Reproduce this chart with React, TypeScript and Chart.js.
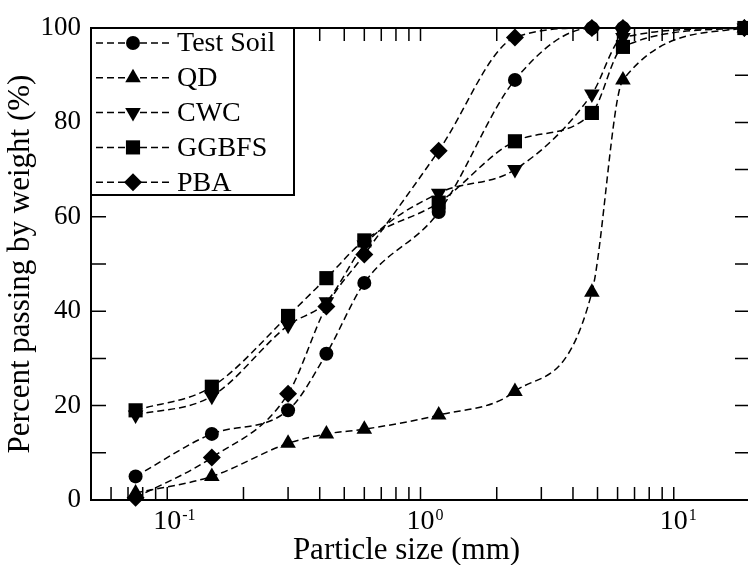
import React, { useEffect, useRef } from 'react';
import { Chart, registerables } from 'chart.js';

Chart.register(...registerables);

// Sieve sizes (mm)
const sizes = [0.075, 0.15, 0.3, 0.425, 0.6, 1.18, 2.36, 4.75, 6.3, 19];

// Percent passing by weight (%)
const testSoil = [5, 14, 19, 31, 46, 61, 89, 100, 100, 100];
const qd = [1.5, 5, 12, 14, 15, 18, 23, 44, 89, 100];
const cwc = [18, 22, 37, 42, 54, 65, 70, 86, 98, 100];
const ggbfs = [19, 24, 39, 47, 55, 63, 76, 82, 96, 100];
const pba = [0.5, 9, 22.5, 41, 52, 74, 98, 100, 100, 100];

const seriesLabels = ['Test Soil', 'QD', 'CWC', 'GGBFS', 'PBA'];
const seriesValues = [testSoil, qd, cwc, ggbfs, pba];
const pointStyles = ['circle', 'triangle', 'triangle', 'rect', 'rectRot'];
const pointRotations = [0, 0, 180, 0, 0];
const pointRadii = [7, 9, 9, 10, 9];

const xMajorTicks = [0.1, 1, 10];
const xTickBase = '10';
const xTickExponents = ['-1', '0', '1'];
const xAxisTitle = 'Particle size (mm)';
const yAxisTitle = 'Percent passing by weight (%)';
const X_MIN = 0.05;
const X_MAX = 20;
const Y_MIN = 0;
const Y_MAX = 100;

const FONT = "'Liberation Serif', 'Times New Roman', serif";

function drawMarker(ctx: CanvasRenderingContext2D, style: string, x: number, y: number, r: number, rotDeg: number) {
  ctx.beginPath();
  if (style === 'circle') {
    ctx.arc(x, y, r, 0, Math.PI * 2);
  } else if (style === 'triangle') {
    let a = (rotDeg * Math.PI) / 180;
    for (let k = 0; k < 3; k++) {
      const px = x + Math.sin(a) * r;
      const py = y - Math.cos(a) * r;
      if (k === 0) ctx.moveTo(px, py);
      else ctx.lineTo(px, py);
      a += (2 * Math.PI) / 3;
    }
  } else if (style === 'rect') {
    const s = r * Math.SQRT1_2;
    ctx.rect(x - s, y - s, 2 * s, 2 * s);
  } else {
    ctx.moveTo(x - r, y);
    ctx.lineTo(x, y - r);
    ctx.lineTo(x + r, y);
    ctx.lineTo(x, y + r);
  }
  ctx.closePath();
  ctx.fill();
}

const framePlugin = {
  id: 'frameTicks',
  beforeDatasetsDraw(chart: any) {
    const { ctx, chartArea, scales } = chart;
    const { left, right, top, bottom } = chartArea;
    const xs = scales.x;
    const ys = scales.y;
    ctx.save();
    ctx.strokeStyle = '#000';
    ctx.setLineDash([]);
    ctx.lineWidth = 1.5;
    ctx.beginPath();
    for (let v = Y_MIN; v <= Y_MAX; v += 10) {
      const py = ys.getPixelForValue(v);
      ctx.moveTo(left, py);
      ctx.lineTo(left + 15, py);
      ctx.moveTo(right, py);
      ctx.lineTo(right - 15, py);
    }
    for (let e = -2; e <= 1; e++) {
      for (let d = 1; d <= 9; d++) {
        const v = d * Math.pow(10, e);
        if (v < X_MIN || v > X_MAX) continue;
        const px = xs.getPixelForValue(v);
        ctx.moveTo(px, bottom);
        ctx.lineTo(px, bottom - 13);
        ctx.moveTo(px, top);
        ctx.lineTo(px, top + 13);
      }
    }
    ctx.stroke();
    ctx.lineWidth = 2;
    ctx.strokeRect(left, top, right - left, bottom - top);

    // exponents of the x tick labels
    ctx.fillStyle = '#000';
    ctx.font = `28px ${FONT}`;
    const baseW = ctx.measureText(xTickBase).width;
    ctx.font = `16px ${FONT}`;
    ctx.textAlign = 'left';
    ctx.textBaseline = 'alphabetic';
    xMajorTicks.forEach((v, i) => {
      const px = xs.getPixelForValue(v);
      ctx.fillText(xTickExponents[i], px + baseW / 2 + 1, bottom + 20);
    });

    // x axis title
    ctx.font = `31px ${FONT}`;
    ctx.textAlign = 'center';
    ctx.textBaseline = 'alphabetic';
    ctx.fillText(xAxisTitle, (left + right) / 2 - 14, bottom + 59);
    ctx.restore();
  },
  afterDatasetsDraw(chart: any) {
    const { ctx, chartArea } = chart;
    const { left, top } = chartArea;
    const boxW = 203;
    const boxH = 167;
    ctx.save();
    ctx.fillStyle = '#fff';
    ctx.fillRect(left, top, boxW, boxH);
    ctx.strokeStyle = '#000';
    ctx.lineWidth = 2;
    ctx.setLineDash([]);
    ctx.strokeRect(left, top, boxW, boxH);
    chart.data.datasets.forEach((ds: any, i: number) => {
      const yy = top + 15 + i * 34.8;
      ctx.strokeStyle = '#000';
      ctx.lineWidth = 1.5;
      ctx.setLineDash([7, 4]);
      ctx.beginPath();
      ctx.moveTo(left + 5, yy);
      ctx.lineTo(left + 81, yy);
      ctx.stroke();
      ctx.setLineDash([]);
      ctx.fillStyle = '#000';
      drawMarker(ctx, ds.pointStyle, left + 42, yy, ds.pointRadius, ds.pointRotation || 0);
      ctx.font = `28px ${FONT}`;
      ctx.textBaseline = 'middle';
      ctx.textAlign = 'left';
      ctx.fillText(ds.label, left + 86, yy + 1);
    });
    ctx.restore();
  },
};

export default function App() {
  const canvasRef = useRef<HTMLCanvasElement | null>(null);

  useEffect(() => {
    if (!canvasRef.current) return;
    const datasets = seriesLabels.map((label, i) => ({
      label,
      data: sizes.map((s, j) => ({ x: s, y: seriesValues[i][j] })),
      borderColor: '#000',
      backgroundColor: '#000',
      borderWidth: 1.5,
      borderDash: [7, 4],
      pointStyle: pointStyles[i],
      pointRotation: pointRotations[i],
      pointRadius: pointRadii[i],
      pointBorderWidth: 0,
      pointBackgroundColor: '#000',
      cubicInterpolationMode: 'monotone',
      fill: false,
      clip: false,
    }));

    const chart = new Chart(canvasRef.current, {
      type: 'line',
      data: { datasets } as any,
      plugins: [framePlugin as any],
      options: {
        animation: false,
        responsive: false,
        maintainAspectRatio: false,
        layout: { padding: { top: 28, right: 8, left: 0, bottom: 0 } },
        plugins: {
          legend: { display: false },
          tooltip: { enabled: false },
        },
        scales: {
          x: {
            type: 'logarithmic',
            min: X_MIN,
            max: X_MAX,
            grid: { display: false, drawTicks: false },
            border: { display: false },
            afterBuildTicks: (scale: any) => {
              scale.ticks = xMajorTicks.map((v) => ({ value: v }));
            },
            afterFit: (scale: any) => {
              scale.height = 65;
            },
            ticks: {
              autoSkip: false,
              maxRotation: 0,
              padding: 5,
              color: '#000',
              font: { family: FONT, size: 28 },
              callback: (value: any) => {
                const idx = xMajorTicks.findIndex((t) => Math.abs(t - Number(value)) < 1e-9);
                return idx >= 0 ? xTickBase : '';
              },
            },
            title: { display: false },
          },
          y: {
            type: 'linear',
            min: Y_MIN,
            max: Y_MAX,
            grid: { display: false, drawTicks: false },
            border: { display: false },
            afterFit: (scale: any) => {
              scale.width = 91;
            },
            ticks: {
              stepSize: 20,
              padding: 10,
              color: '#000',
              font: { family: FONT, size: 27 },
            },
            title: {
              display: true,
              text: yAxisTitle,
              color: '#000',
              font: { family: FONT, size: 31, lineHeight: 1 },
              padding: { top: 5, bottom: 0 },
            },
          },
        },
      } as any,
    });
    return () => chart.destroy();
  }, []);

  return (
    <div style={{ position: 'fixed', left: 0, top: 0, width: 760, height: 565, background: '#fff' }}>
      <canvas ref={canvasRef} width={760} height={565} style={{ width: 760, height: 565, display: 'block' }} />
    </div>
  );
}
